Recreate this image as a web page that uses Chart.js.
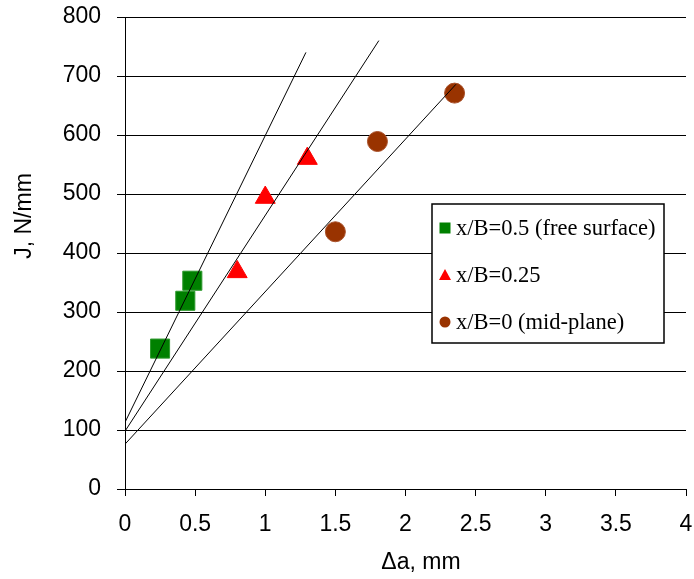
<!DOCTYPE html>
<html>
<head>
<meta charset="utf-8">
<script src="https://cdn.jsdelivr.net/npm/chart.js@4/dist/chart.umd.min.js"></script>
<style>
  html, body { margin: 0; padding: 0; background: #fff; }
  #wrap { width: 694px; height: 579px; position: relative; }
</style>
</head>
<body>
<div id="wrap"><canvas id="chart"></canvas></div>
<script>
// measured points
const freeSurfX = [0.25, 0.43, 0.48];
const freeSurfJ = [238, 319, 353];
const quarterX = [0.8, 1.0, 1.3];
const quarterJ = [368, 494, 560];
const midX = [1.5, 1.8, 2.35];
const midJ = [436, 589, 671];

// straight fit lines (two end points each)
const fit1X = [0, 1.29];
const fit1J = [113, 740];
const fit2X = [0, 1.81];
const fit2J = [98, 760];
const fit3X = [0, 2.36];
const fit3J = [76, 686];

const seriesLabels = ['x/B=0.5 (free surface)', 'x/B=0.25', 'x/B=0 (mid-plane)'];
const xTitle = '\u0394a, mm';
const yTitle = 'J, N/mm';
const xTicks = [0, 0.5, 1, 1.5, 2, 2.5, 3, 3.5, 4];
const yTicks = [0, 100, 200, 300, 400, 500, 600, 700, 800];

const sansFont = '"Liberation Sans", Arial, sans-serif';

function toPoints(xs, ys) {
    return xs.map((x, i) => ({ x: x, y: ys[i] }));
}

function fitLine(xs, ys) {
    return {
        data: toPoints(xs, ys),
        showLine: true,
        borderColor: '#000',
        borderWidth: 1,
        pointRadius: 0,
        inLegend: false
    };
}

// axis titles sit a bit off-centre in the original, so place them by hand
const axisTitles = {
    id: 'axisTitles',
    afterDraw(chart) {
        const ctx = chart.ctx;
        ctx.save();
        ctx.fillStyle = '#000';
        ctx.font = '23px ' + sansFont;
        ctx.textAlign = 'center';
        ctx.textBaseline = 'middle';
        ctx.fillText(xTitle, 421, 563);
        ctx.translate(25, 216);
        ctx.rotate(-Math.PI / 2);
        ctx.fillText(yTitle, 0, 0);
        ctx.restore();
    }
};

// legend drawn inside the plot area, like the original
const boxLegend = {
    id: 'boxLegend',
    afterDraw(chart) {
        const ctx = chart.ctx;
        const left = 432, top = 204, w = 232, h = 139;
        ctx.save();
        ctx.fillStyle = '#fff';
        ctx.fillRect(left, top, w, h);
        ctx.strokeStyle = '#000';
        ctx.lineWidth = 1.5;
        ctx.strokeRect(left, top, w, h);

        const items = chart.data.datasets.filter(d => d.inLegend);
        ctx.font = '22.5px "Liberation Serif", "Times New Roman", serif';
        ctx.textBaseline = 'middle';
        items.forEach((d, i) => {
            const cy = top + 24 + i * 47;
            const cx = left + 13;
            ctx.fillStyle = d.backgroundColor;
            if (d.pointStyle === 'rect') {
                ctx.fillRect(cx - 5.5, cy - 5.5, 11, 11);
            } else if (d.pointStyle === 'triangle') {
                ctx.beginPath();
                ctx.moveTo(cx, cy - 6);
                ctx.lineTo(cx + 6, cy + 5);
                ctx.lineTo(cx - 6, cy + 5);
                ctx.closePath();
                ctx.fill();
            } else {
                ctx.beginPath();
                ctx.arc(cx, cy, 5.5, 0, Math.PI * 2);
                ctx.fill();
            }
            ctx.fillStyle = '#000';
            ctx.fillText(d.label, left + 24, cy + 1);
        });
        ctx.restore();
    }
};

const tickFont = { family: sansFont, size: 23 };

new Chart(document.getElementById('chart'), {
    type: 'scatter',
    data: {
        datasets: [
            fitLine(fit1X, fit1J),
            fitLine(fit2X, fit2J),
            fitLine(fit3X, fit3J),
            {
                label: seriesLabels[0],
                data: toPoints(freeSurfX, freeSurfJ),
                pointStyle: 'rect',
                pointRadius: 13.5,
                backgroundColor: '#008000',
                borderColor: '#2f9a2f',
                borderWidth: 1,
                inLegend: true
            },
            {
                label: seriesLabels[1],
                data: toPoints(quarterX, quarterJ),
                pointStyle: 'triangle',
                pointRadius: 11.5,
                backgroundColor: '#ff0000',
                borderColor: '#ff0000',
                borderWidth: 1,
                inLegend: true
            },
            {
                label: seriesLabels[2],
                data: toPoints(midX, midJ),
                pointStyle: 'circle',
                pointRadius: 10,
                backgroundColor: '#993300',
                borderColor: '#a8502a',
                borderWidth: 1,
                inLegend: true
            }
        ]
    },
    options: {
        responsive: true,
        maintainAspectRatio: false,
        animation: false,
        layout: { autoPadding: false, padding: { top: 17, right: 8, left: 0, bottom: 0 } },
        plugins: {
            legend: { display: false },
            tooltip: { enabled: false }
        },
        scales: {
            x: {
                type: 'linear',
                min: 0,
                max: 4,
                afterBuildTicks: s => { s.ticks = xTicks.map(v => ({ value: v })); },
                afterFit: s => { s.height = 90; s.paddingLeft = 0; s.paddingRight = 0; },
                grid: {
                    drawOnChartArea: false,
                    drawTicks: true,
                    tickLength: 7,
                    color: '#000'
                },
                border: { color: '#000', width: 1 },
                ticks: {
                    color: '#000',
                    font: tickFont,
                    padding: 15,
                    maxRotation: 0,
                    callback: v => String(v)
                },
                title: { display: false }
            },
            y: {
                type: 'linear',
                min: 0,
                max: 800,
                afterBuildTicks: s => { s.ticks = yTicks.map(v => ({ value: v })); },
                afterFit: s => { s.width = 125; s.paddingTop = 0; s.paddingBottom = 0; },
                grid: {
                    color: '#000',
                    lineWidth: 1,
                    tickLength: 8
                },
                border: { color: '#000', width: 1 },
                ticks: {
                    color: '#000',
                    font: tickFont,
                    padding: 16
                },
                title: { display: false }
            }
        }
    },
    plugins: [boxLegend, axisTitles]
});
</script>
</body>
</html>
